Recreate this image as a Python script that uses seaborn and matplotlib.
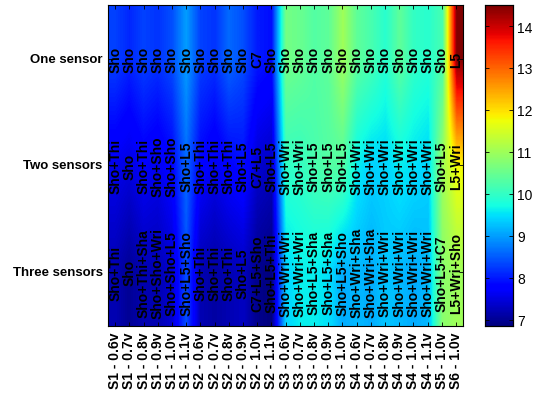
import numpy as np
import pandas as pd
import matplotlib
matplotlib.use("Agg")
import matplotlib.pyplot as plt
import seaborn as sns

# Condition labels (sensor position - supply voltage)
conditions = [
    "S1 - 0.6v", "S1 - 0.7v", "S1 - 0.8v", "S1 - 0.9v", "S1 - 1.0v", "S1 - 1.1v",
    "S2 - 0.6v", "S2 - 0.7v", "S2 - 0.8v", "S2 - 0.9v", "S2 - 1.0v", "S2 - 1.1v",
    "S3 - 0.6v", "S3 - 0.7v", "S3 - 0.8v", "S3 - 0.9v", "S3 - 1.0v",
    "S4 - 0.6v", "S4 - 0.7v", "S4 - 0.8v", "S4 - 0.9v", "S4 - 1.0v", "S4 - 1.1v",
    "S5 - 1.0v", "S6 - 1.0v",
]
configs = ["One sensor", "Two sensors", "Three sensors"]

one_sensor = [8.3, 8.1, 8.3, 8.2, 8.4, 9.0,
              8.3, 8.2, 8.6, 8.4, 8.0, 7.9,
              10.6, 10.5, 10.3, 10.4, 11.0,
              10.4, 10.2, 9.9, 10.4, 10.0, 9.9,
              10.2, 14.5]
two_sensors = [7.6, 7.5, 7.7, 7.6, 7.8, 8.6,
               7.8, 7.6, 7.8, 7.9, 7.4, 7.3,
               10.0, 10.0, 10.2, 10.3, 10.3,
               9.6, 9.4, 9.4, 9.6, 9.5, 9.4,
               11.0, 11.8]
three_sensors = [7.2, 7.0, 7.2, 7.2, 7.4, 8.4,
                 7.2, 7.1, 7.2, 7.3, 6.95, 6.85,
                 9.4, 9.6, 9.6, 9.5, 9.1,
                 9.2, 9.1, 9.3, 9.2, 9.1, 9.2,
                 10.8, 11.0]

# Best sensor placement for each condition
one_labels = ["Sho"] * 10 + ["C7", "Sho"] + ["Sho"] * 12 + ["L5"]
two_labels = ["Sho+Thi", "Sho", "Sho+Thi", "Sho+Sho", "Sho+Sho", "Sho+L5",
              "Sho+Thi", "Sho+Thi", "Sho+Thi", "Sho+L5", "C7+L5", "Sho+L5",
              "Sho+Wri", "Sho+Wri", "Sho+L5", "Sho+L5", "Sho+L5",
              "Sho+Wri", "Sho+Wri", "Sho+Wri", "Sho+Wri", "Sho+Wri", "Sho+Wri",
              "Sho+L5", "L5+Wri"]
three_labels = ["Sho+Thi", "Sho", "Sho+Thi+Sha", "Sho+Sho+Wri", "Sho+Sho+L5", "Sho+L5+Sho",
                "Sho+Thi", "Sho+Thi", "Sho+Thi", "Sho+L5", "C7+L5+Sho", "Sho+L5+Thi",
                "Sho+Wri+Wri", "Sho+Wri+Wri", "Sho+L5+Sha", "Sho+L5+Sha", "Sho+L5+Sho",
                "Sho+Wri+Sha", "Sho+Wri+Sha", "Sho+Wri+Wri", "Sho+Wri+Wri", "Sho+Wri+Wri",
                "Sho+Wri+Wri", "Sho+L5+C7", "L5+Wri+Sho"]

values = pd.DataFrame([one_sensor, two_sensors, three_sensors],
                      index=configs, columns=conditions)
labels = np.array([one_labels, two_labels, three_labels])

plt.rcParams["font.family"] = ["Liberation Sans", "DejaVu Sans"]

fig = plt.figure(figsize=(5.43, 4.06), dpi=100)
ax = fig.add_axes([0.199, 0.195, 0.654, 0.790])
cax = fig.add_axes([0.893, 0.195, 0.052, 0.790])

sns.heatmap(values, cmap="jet", annot=labels, fmt="", ax=ax, cbar_ax=cax,
            xticklabels=True, yticklabels=True,
            annot_kws=dict(rotation=90, color="black", fontsize=10,
                           fontweight="bold"))

# Smoothly shaded field on top of the cell mesh, below the annotations
mesh = ax.collections[0]
ax.imshow(values.to_numpy(), cmap="jet", norm=mesh.norm, interpolation="bilinear",
          interpolation_stage="data", extent=(0, len(conditions), len(configs), 0),
          aspect="auto", origin="upper", zorder=1.5)
ax.set_xlim(0, len(conditions))
ax.set_ylim(len(configs), 0)

for sp in ax.spines.values():
    sp.set_visible(True)
    sp.set_linewidth(0.8)
ax.tick_params(axis="both", direction="in", length=3, width=0.6,
               top=True, right=True, pad=4)
ax.set_xticklabels(conditions, rotation=90, fontsize=10, fontweight="bold")
ax.set_yticklabels(configs, rotation=0, fontsize=9.5, fontweight="bold")
ax.set_xlabel("")
ax.set_ylabel("")

cax.set_yticks(range(7, 15))
cax.tick_params(axis="y", direction="in", length=3, width=0.6, labelsize=10,
                left=True, right=True, pad=3)
for sp in cax.spines.values():
    sp.set_visible(True)
    sp.set_linewidth(0.8)

fig.savefig("out.png", dpi=100)
